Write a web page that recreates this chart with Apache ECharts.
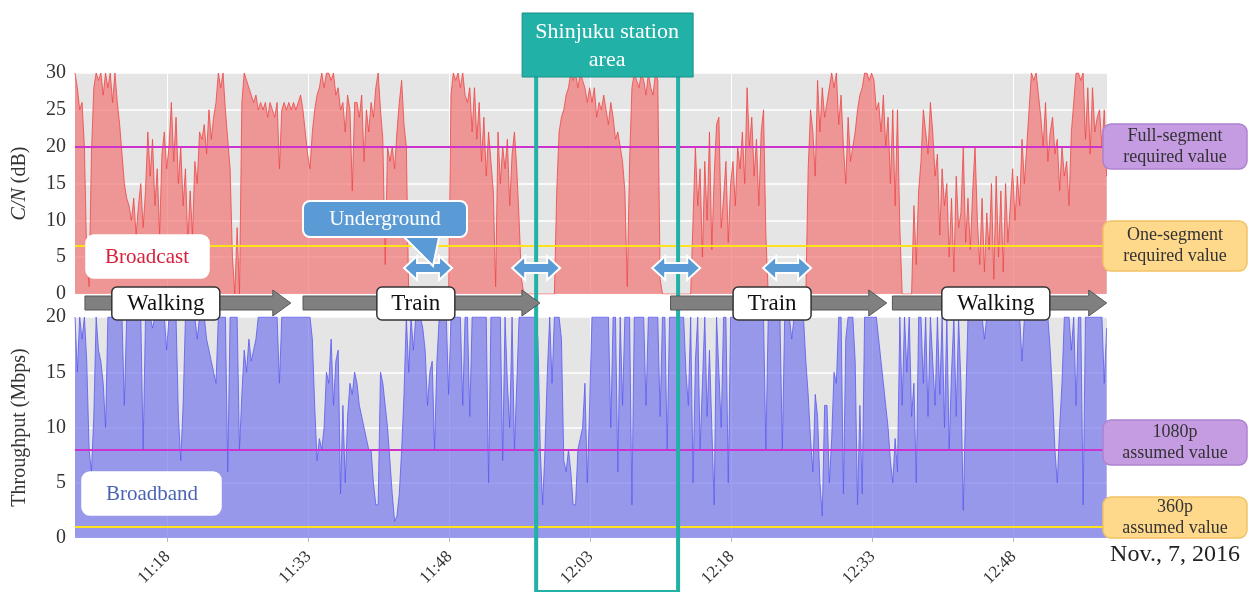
<!DOCTYPE html>
<html>
<head>
<meta charset="utf-8">
<script src="https://cdn.jsdelivr.net/npm/echarts@6/dist/echarts.min.js"></script>
<style>
  html, body { margin: 0; padding: 0; background: #fff; }
  #chart { width: 1253px; height: 592px; }
</style>
</head>
<body>
<div id="chart"></div>
<script>
// time is in minutes after 11:00, one sample every 15 s
const T0 = 8.14
const STEP = 0.25
const xMin = 8.14
const xMax = 117.93
const tickMinutes = [18, 33, 48, 63, 78, 93, 108]

// C/N of the broadcast signal (dB)
const cnValues = [
  30,28,25,26,20,5,1,19,28,30,29,30,27,30,28,30,26,30,26,23,
  19,15,13,12,10,13,8,12,15,9,14,22,16,21,12,17,8,19,22,17,
  20,26,18,24,15,20,12,17,7,14,8,18,15,22,21,23,19,25,21,24,
  26,30,28,30,25,21,17,5,0,9,0,26,30,29,28,27,26,27,25,26,
  25,26,24,26,25,24,26,17,25,26,25,26,25,26,25,26,27,25,22,19,
  17,22,25,27,28,30,28,30,30,29,30,27,28,25,26,22,27,25,14,26,
  26,24,27,18,25,22,26,24,28,30,25,21,4,20,18,20,17,22,26,29,
  23,20,0,0,0,0,0,0,0,0,0,0,0,0,0,0,0,0,0,0,
  27,30,29,30,28,30,27,26,28,22,28,21,26,18,24,16,22,18,14,1,
  22,15,20,17,21,12,19,22,17,10,2,0,0,0,0,0,0,0,0,0,
  0,0,0,0,0,14,22,24,25,27,28,30,29,30,28,30,29,28,26,28,
  26,28,24,26,25,27,25,23,26,24,21,22,20,18,14,1,18,28,30,29,
  28,30,29,27,30,28,27,30,29,2,0,0,0,0,0,0,0,0,0,0,
  0,0,0,10,20,12,17,5,18,10,22,6,16,23,24,9,13,18,7,15,
  18,12,20,17,22,15,28,20,24,16,21,12,22,25,8,0,0,0,0,0,
  0,0,0,0,0,0,0,0,0,0,0,0,17,25,22,16,29,22,28,24,
  26,28,30,28,30,23,27,20,15,24,18,20,22,25,27,28,30,30,29,30,
  29,25,26,22,27,20,24,15,25,12,25,9,0,0,0,0,0,12,4,14,
  18,25,22,19,26,22,16,19,8,17,12,15,5,13,3,16,9,11,20,7,
  13,6,14,20,10,4,13,3,11,6,15,2,16,5,14,3,15,7,12,17,
  10,16,12,21,15,20,25,30,29,30,27,24,20,26,18,22,24,19,21,14,
  20,16,18,12,22,26,30,30,29,30,21,28,19,28,22,24,25,20,25,16
]

// broadband throughput (Mbps)
const tpValues = [
  20,15,20,18,20,16,8,6,11,20,17,16,14,10,20,20,20,20,20,20,
  20,12,20,20,20,20,20,20,20,8,20,20,20,19,20,20,20,20,20,17,
  20,20,20,20,11,7,12,20,20,20,20,20,18,20,20,20,18,17,16,15,
  14,20,20,20,20,6,20,20,20,20,8,13,17,15,18,16,17,18,20,20,
  20,20,20,20,20,20,20,14,20,20,20,20,20,20,20,20,20,20,20,20,
  20,18,12,7,9,8,10,15,14,18,12,16,17,4,12,5,11,14,13,15,
  14,12,11,10,9,8,8,5,3,3,15,14,12,10,7,4,1.5,2,4,8,
  13,20,15,20,17,20,20,20,19,17,12,15,16,8,16,20,20,20,20,13,
  20,20,20,20,20,12,20,20,11,20,20,20,20,20,20,20,5,20,20,20,
  20,20,7,20,14,10,20,8,14,20,20,20,20,20,20,20,20,18,8,3,
  8,15,20,14,20,20,20,18,7,6,8,6,3,3,8,9,10,14,5,12,
  20,20,20,20,20,20,20,20,10,20,20,6,20,12,20,20,20,3,20,20,
  20,20,20,12,20,20,20,20,20,11,20,20,8,20,20,20,20,20,20,20,
  15,12,20,5,16,20,8,14,20,11,17,10,3,20,15,10,20,20,5,20,
  20,20,20,20,20,20,20,20,20,20,20,20,20,20,8,20,20,20,20,20,
  20,8,20,20,20,18,20,20,20,20,20,16,13,9,6,13,11,5,2,12,
  12,5,9,15,14,20,20,4,18,20,20,20,16,3,12,4,20,20,20,20,
  20,20,18,16,14,12,10,7,5,9,6,20,12,20,15,20,11,14,5,20,
  20,14,20,11,20,16,12,20,13,20,10,20,8,15,20,11,20,14,2.5,12,
  20,20,20,20,20,20,20,18,20,20,20,20,20,20,20,20,20,20,20,20,
  20,20,20,16,20,20,20,20,20,20,20,20,20,20,20,17,13,8,5,10,
  14,20,20,20,17,20,12,20,20,3,20,20,20,20,20,20,20,20,14,19
]

const cnFullSegment = 20
const cnOneSegment = 6.6
const tp1080p = 8
const tp360p = 1

const shinjukuRange = [57.2, 72.3]
const activities = [
  { label: 'Walking', from: 9.2, to: 31.1, center: 17.8, w: 108 },
  { label: 'Train', from: 32.4, to: 57.6, center: 44.4, w: 78 },
  { label: 'Train', from: 71.5, to: 94.5, center: 82.3, w: 78 },
  { label: 'Walking', from: 95.1, to: 117.9, center: 106.1, w: 108 }
]
const undergroundMarks = [45.7, 57.2, 72.1, 83.9]

const SERIF = '"Liberation Serif", "DejaVu Serif", serif'

function toClock(m) {
  const h = 11 + Math.floor(m / 60)
  const mm = Math.round(m % 60)
  return h + ':' + String(mm).padStart(2, '0')
}

const cnData = cnValues.map((v, i) => [T0 + i * STEP, v])
const tpData = tpValues.map((v, i) => [T0 + i * STEP, v])

const chart = echarts.init(document.getElementById('chart'))

const xAxisBase = {
  type: 'value',
  min: xMin,
  max: xMax,
  axisLine: { show: false },
  axisTick: { show: false, customValues: tickMinutes },
  splitLine: { show: true, lineStyle: { color: '#ffffff', width: 1 } }
}

const yLabel = { fontFamily: SERIF, fontSize: 20, color: '#333', margin: 9 }

chart.setOption({
  animation: false,
  grid: [
    { left: 75, top: 73, width: 1032, height: 221, show: true, backgroundColor: '#e5e5e5', borderWidth: 0 },
    { left: 75, top: 317, width: 1032, height: 221, show: true, backgroundColor: '#e5e5e5', borderWidth: 0 }
  ],
  xAxis: [
    Object.assign({}, xAxisBase, {
      gridIndex: 0,
      axisLabel: { show: false, customValues: tickMinutes }
    }),
    Object.assign({}, xAxisBase, {
      gridIndex: 1,
      axisTick: { show: true, length: 4, customValues: tickMinutes, lineStyle: { color: '#bbb' } },
      axisLabel: {
        show: true,
        customValues: tickMinutes,
        rotate: 45,
        margin: 16,
        fontFamily: SERIF,
        fontSize: 17,
        color: '#333',
        formatter: toClock
      }
    })
  ],
  yAxis: [
    {
      type: 'value', gridIndex: 0, min: 0, max: 30, interval: 5,
      axisLine: { show: false }, axisTick: { show: false },
      axisLabel: yLabel,
      splitLine: { lineStyle: { color: '#ffffff', width: 1.5 } },
      name: '{i|C/N} (dB)',
      nameLocation: 'middle',
      nameGap: 45,
      nameTextStyle: {
        fontFamily: SERIF, fontSize: 20, color: '#333',
        rich: { i: { fontFamily: SERIF, fontSize: 20, fontStyle: 'italic', color: '#333' } }
      }
    },
    {
      type: 'value', gridIndex: 1, min: 0, max: 20, interval: 5,
      axisLine: { show: false }, axisTick: { show: false },
      axisLabel: yLabel,
      splitLine: { lineStyle: { color: '#ffffff', width: 1.5 } },
      name: 'Throughput (Mbps)',
      nameLocation: 'middle',
      nameGap: 45,
      nameTextStyle: { fontFamily: SERIF, fontSize: 20, color: '#333' }
    }
  ],
  series: [
    {
      name: 'Broadcast',
      type: 'line',
      xAxisIndex: 0,
      yAxisIndex: 0,
      data: cnData,
      symbol: 'none',
      lineStyle: { color: 'rgba(238,70,70,0.8)', width: 1 },
      areaStyle: { color: 'rgba(242,115,115,0.7)', opacity: 1 },
      markLine: {
        silent: true, symbol: 'none', label: { show: false },
        data: [
          { yAxis: cnFullSegment, lineStyle: { color: '#cc33cc', width: 2, type: 'solid' } },
          { yAxis: cnOneSegment, lineStyle: { color: '#ffe31a', width: 2, type: 'solid' } }
        ]
      }
    },
    {
      name: 'Broadband',
      type: 'line',
      xAxisIndex: 1,
      yAxisIndex: 1,
      data: tpData,
      symbol: 'none',
      lineStyle: { color: 'rgba(90,90,240,0.8)', width: 1 },
      areaStyle: { color: 'rgba(120,120,238,0.7)', opacity: 1 },
      markLine: {
        silent: true, symbol: 'none', label: { show: false },
        data: [
          { yAxis: tp1080p, lineStyle: { color: '#cc33cc', width: 2, type: 'solid' } },
          { yAxis: tp360p, lineStyle: { color: '#ffe31a', width: 2, type: 'solid' } }
        ]
      }
    }
  ]
})

// annotations, placed from the axis scale
const px = m => chart.convertToPixel({ xAxisIndex: 0 }, m)

function textEl(text, x, y, size, color, extra) {
  return {
    type: 'text', z: 120, silent: true,
    style: Object.assign({
      text: text, x: x, y: y, fill: color,
      font: size + 'px ' + SERIF,
      textAlign: 'center', textVerticalAlign: 'middle',
      align: 'center', verticalAlign: 'middle'
    }, extra || {})
  }
}

function boxEl(x, y, w, h, fill, stroke, r) {
  return {
    type: 'rect', z: 110, silent: true,
    shape: { x: x, y: y, width: w, height: h, r: r },
    style: { fill: fill, stroke: stroke, lineWidth: 1.5 }
  }
}

function arrowPoints(x0, x1, yc) {
  const s = 7, hh = 13, hl = 18
  return [[x0, yc - s], [x1 - hl, yc - s], [x1 - hl, yc - hh], [x1, yc], [x1 - hl, yc + hh], [x1 - hl, yc + s], [x0, yc + s]]
}

function doubleArrowPoints(xc, yc) {
  const half = 24, s = 5, hh = 12, hl = 13
  const a = xc - half, b = xc + half
  return [[a, yc], [a + hl, yc - hh], [a + hl, yc - s], [b - hl, yc - s], [b - hl, yc - hh], [b, yc],
    [b - hl, yc + hh], [b - hl, yc + s], [a + hl, yc + s], [a + hl, yc + hh]]
}

const g = []

// Shinjuku station area
const sx0 = px(shinjukuRange[0])
const sx1 = px(shinjukuRange[1])
const teal = '#22b1a6'
g.push({ type: 'line', z: 100, silent: true, shape: { x1: sx0, y1: 77, x2: sx0, y2: 592 }, style: { stroke: teal, lineWidth: 4 } })
g.push({ type: 'line', z: 100, silent: true, shape: { x1: sx1, y1: 77, x2: sx1, y2: 592 }, style: { stroke: teal, lineWidth: 4 } })
g.push({ type: 'line', z: 100, silent: true, shape: { x1: sx0, y1: 591, x2: sx1, y2: 591 }, style: { stroke: teal, lineWidth: 2 } })
const smid = (sx0 + sx1) / 2
g.push({ type: 'rect', z: 110, silent: true, shape: { x: smid - 85, y: 13, width: 171, height: 64 }, style: { fill: teal, stroke: '#179086', lineWidth: 1 } })
g.push(textEl('Shinjuku station\narea', smid, 46, 22, '#ffffff', { lineHeight: 28 }))

// activity arrows
activities.forEach(a => {
  g.push({
    type: 'polygon', z: 105, silent: true,
    shape: { points: arrowPoints(px(a.from), px(a.to), 303) },
    style: { fill: '#808080', stroke: '#555', lineWidth: 1 }
  })
  const c = px(a.center)
  g.push(boxEl(c - a.w / 2, 287, a.w, 33, '#ffffff', '#333', 5))
  g.push(textEl(a.label, c, 304, 23, '#111'))
})

// underground markers
const blue = '#5b9bd5'
undergroundMarks.forEach(m => {
  g.push({
    type: 'polygon', z: 112, silent: true,
    shape: { points: doubleArrowPoints(px(m), 268) },
    style: { fill: blue, stroke: '#ffffff', lineWidth: 2 }
  })
})

// Underground callout
g.push({
  type: 'polygon', z: 113, silent: true,
  shape: { points: [[400, 233], [440, 233], [433, 266]] },
  style: { fill: blue, stroke: '#ffffff', lineWidth: 2 }
})
g.push({ type: 'rect', z: 114, silent: true, shape: { x: 303, y: 201, width: 164, height: 36, r: 7 }, style: { fill: blue, stroke: '#ffffff', lineWidth: 2 } })
g.push({ type: 'rect', z: 115, silent: true, shape: { x: 402, y: 230, width: 36, height: 6 }, style: { fill: blue } })
g.push(textEl('Underground', 385, 219, 21, '#ffffff'))

// series labels
g.push(boxEl(86, 235, 123, 43, '#ffffff', '#ffffff', 8))
g.push(textEl('Broadcast', 147, 257, 21, '#d8203a'))
g.push(boxEl(82, 472, 139, 43, '#ffffff', '#ffffff', 8))
g.push(textEl('Broadband', 152, 494, 21, '#4b63b3'))

// threshold labels on the right
const purple = '#c59be1'
const orange = '#ffd98b'
g.push(boxEl(1103, 124, 144, 45, purple, '#ad83cf', 8))
g.push(textEl('Full-segment\nrequired value', 1175, 147, 18, '#333', { lineHeight: 21 }))
g.push(boxEl(1103, 221, 144, 50, orange, '#f2c266', 8))
g.push(textEl('One-segment\nrequired value', 1175, 246, 18, '#333', { lineHeight: 21 }))
g.push(boxEl(1103, 420, 144, 45, purple, '#ad83cf', 8))
g.push(textEl('1080p\nassumed value', 1175, 443, 18, '#333', { lineHeight: 21 }))
g.push(boxEl(1103, 497, 144, 41, orange, '#f2c266', 8))
g.push(textEl('360p\nassumed value', 1175, 518, 18, '#333', { lineHeight: 21 }))

g.push(textEl('Nov., 7, 2016', 1175, 555, 24, '#222'))

chart.setOption({ graphic: g })
</script>
</body>
</html>
